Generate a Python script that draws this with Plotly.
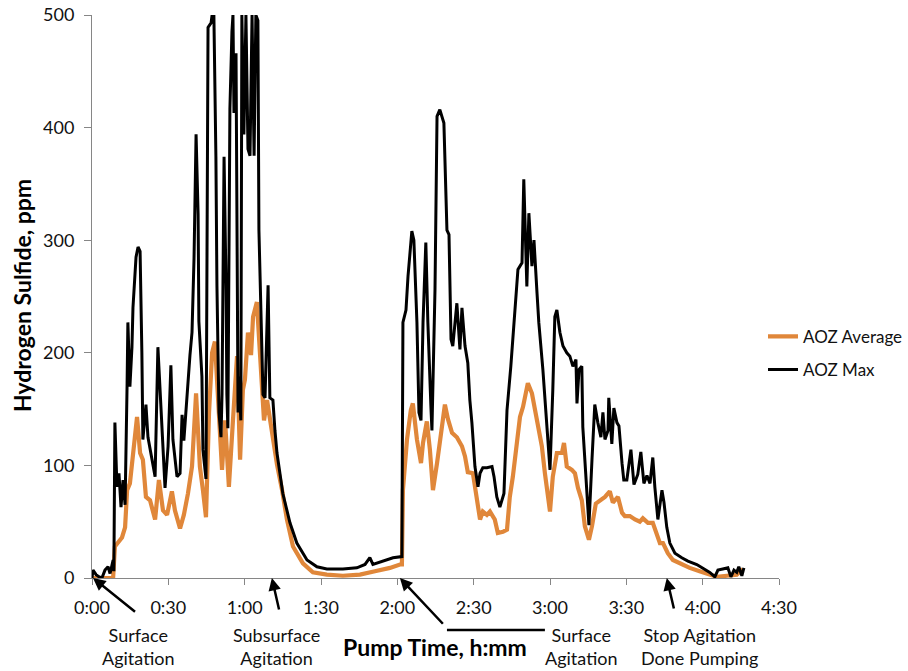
import plotly.graph_objects as go

# Time in minutes of pumping, values in ppm
max_t = [0.0, 0.4, 1.6, 2.8, 3.9, 5.1, 6.3, 7.1, 8.3, 8.6, 9.0, 9.8, 10.6, 11.4, 12.2, 13.0, 13.8, 14.1, 14.9, 15.7,
         16.1, 17.3, 18.1, 18.9, 19.6, 20.0, 21.2, 22.0, 23.6, 24.8, 25.9, 27.5, 28.7, 29.9, 31.0, 31.8, 33.4, 34.6,
         35.4, 36.1, 37.3, 38.5, 39.3, 40.1, 40.9, 41.7, 42.0, 43.2, 43.6, 44.8, 45.6, 46.8, 47.2, 47.9, 48.7, 49.1,
         49.9, 50.7, 51.1, 51.9, 52.7, 53.0, 53.4, 54.2, 55.0, 55.4, 55.8, 56.6, 57.4, 57.8, 58.5, 58.9, 59.7, 60.5,
         61.3, 62.1, 62.9, 63.7, 64.4, 65.2, 65.6, 66.4, 67.2, 68.0, 69.2, 69.9, 71.1, 71.9, 72.7, 75.0, 77.8, 80.5,
         84.5, 88.4, 92.3, 98.6, 104.1, 107.3, 109.2, 110.4, 113.2, 118.3, 121.8, 122.2, 123.4, 124.2, 125.7, 126.5,
         127.7, 128.5, 129.3, 130.1, 131.2, 132.0, 133.2, 133.6, 134.8, 135.6, 136.7, 138.3, 139.5, 140.3, 141.1,
         141.8, 143.4, 144.6, 145.4, 146.6, 147.7, 148.5, 149.3, 150.5, 151.7, 152.5, 153.6, 155.2, 157.2, 158.0,
         159.1, 160.3, 161.9, 163.1, 164.6, 166.2, 167.4, 169.0, 169.7, 170.9, 171.7, 172.9, 173.7, 174.9, 175.6,
         177.2, 178.8, 180.0, 181.1, 181.9, 182.7, 183.9, 185.1, 186.6, 187.8, 189.0, 190.2, 190.6, 191.4, 192.5,
         192.9, 194.5, 195.3, 196.5, 197.6, 198.8, 200.0, 200.8, 201.6, 202.8, 203.1, 204.3, 205.1, 206.3, 207.1,
         208.3, 209.0, 210.2, 211.8, 213.0, 214.5, 215.7, 216.9, 218.1, 219.3, 220.4, 221.2, 222.4, 224.0, 224.8,
         225.9, 227.1, 229.1, 231.8, 234.2, 237.7, 240.1, 242.8, 244.8, 246.0, 247.9, 249.9, 251.1, 252.3, 253.4,
         254.2, 255.4, 256.2]
max_v = [0, 7, 3, 1, 0, 7, 10, 4, 16, 6, 138, 81, 93, 63, 87, 65, 173, 227, 170, 205,
         240, 285, 294, 290, 200, 123, 154, 125, 105, 90, 205, 140, 80, 117, 189, 123, 90, 93,
         145, 122, 163, 198, 218, 284, 394, 323, 228, 179, 114, 88, 489, 493, 500, 500, 374, 260,
         147, 125, 163, 374, 257, 163, 133, 417, 485, 500, 413, 466, 147, 179, 140, 500, 394, 500,
         381, 375, 500, 375, 500, 495, 309, 228, 163, 160, 260, 160, 158, 131, 111, 75, 49, 31,
         16, 10, 8, 8, 9, 12, 18, 12, 14, 18, 19, 227, 238, 268, 308, 300,
         227, 147, 140, 227, 298, 227, 152, 131, 256, 410, 416, 404, 309, 305, 212,
         206, 244, 203, 240, 206, 191, 158, 138, 99, 81, 93, 98, 98, 99, 90,
         72, 63, 75, 149, 188, 238, 274, 280, 354, 259, 324, 277, 300, 253, 227,
         185, 138, 96, 167, 232, 238, 218, 206, 200, 197, 188, 194, 155, 185, 188,
         134, 75, 47, 105, 154, 138, 125, 147, 123, 131, 160, 119, 151, 138, 135,
         102, 87, 87, 114, 83, 92, 112, 84, 91, 84, 107, 81, 52, 78, 67,
         45, 31, 22, 18, 15, 12, 9, 5, 1, 7, 8, 9, 1, 7, 5,
         10, 2, 9]

avg_t = [0.0, 8.3, 9.0, 9.8, 10.6, 11.8, 13.0, 13.8, 14.9, 16.1, 17.7, 18.9, 20.0, 21.2, 22.8, 24.8, 26.3, 27.9, 29.5,
         31.4, 32.6, 34.6, 36.1, 37.7, 39.3, 40.9, 42.4, 43.6, 44.8, 46.0, 47.2, 48.3, 49.5, 51.1, 52.3, 53.8, 55.4,
         57.0, 58.2, 59.3, 60.1, 61.3, 62.5, 63.3, 64.8, 66.0, 67.6, 68.8, 69.9, 71.1, 72.7, 74.7, 76.6, 79.0, 82.9,
         86.8, 92.3, 98.6, 105.3, 111.2, 117.1, 121.0, 121.8, 122.2, 123.8, 125.3, 126.1, 127.7, 129.3, 130.1, 131.6,
         132.8, 134.0, 135.6, 136.7, 138.7, 139.9, 141.5, 143.4, 145.4, 146.6, 147.7, 149.7, 151.3, 152.5, 153.6,
         155.2, 156.4, 158.3, 159.5, 161.5, 163.1, 164.2, 165.4, 167.0, 168.2, 169.4, 171.3, 172.9, 174.1, 175.2,
         176.8, 178.0, 179.2, 180.0, 181.1, 182.7, 184.7, 185.5, 186.6, 188.6, 189.8, 191.0, 192.5, 193.7, 195.3,
         196.5, 198.0, 199.6, 201.6, 203.5, 204.7, 206.7, 208.3, 209.4, 211.4, 213.4, 215.3, 216.5, 218.5, 220.4,
         222.0, 223.2, 224.4, 226.3, 228.3, 231.8, 234.9, 238.8, 242.8, 245.6, 249.5, 253.4, 255.8]
avg_v = [0, 0, 28, 30, 32, 36, 45, 78, 84, 111, 143, 111, 105, 72, 69, 52, 87, 60, 56,
         77, 60, 44, 56, 75, 99, 164, 99, 78, 54, 147, 200, 210, 161, 96, 140, 81, 140,
         197, 105, 167, 176, 218, 198, 232, 245, 197, 140, 158, 140, 123, 101, 78, 52, 28, 13,
         5, 3, 2, 3, 6, 9, 12, 12, 78, 123, 149, 155, 123, 102, 120, 139,
         114, 78, 102, 123, 154, 141, 129, 125, 117, 108, 94, 93, 67, 52, 59,
         56, 59, 52, 40, 41, 43, 72, 90, 120, 143, 152, 173, 164, 149, 135,
         117, 93, 69, 59, 90, 111, 111, 120, 99, 96, 93, 80, 69, 46, 34,
         46, 66, 69, 72, 77, 67, 72, 58, 55, 55, 52, 50, 53, 49, 49,
         40, 31, 31, 22, 16, 12, 9, 6, 3, 1, 2, 3, 8]

tick_vals = [0, 30, 60, 90, 120, 150, 180, 210, 240, 270]
tick_text = ["0:00", "0:30", "1:00", "1:30", "2:00", "2:30", "3:00", "3:30", "4:00", "4:30"]

event_t = [0.4, 70.7, 121.0, 225.9]
event_text = ["Surface<br>Agitation", "Subsurface<br>Agitation", "Surface<br>Agitation", "Stop Agitation<br>Done Pumping"]
event_text_t = [18.1, 72.7, 192.5, 238.9]

FONT = "Lato, 'Open Sans', sans-serif"
AX = "#868686"
TXT = "#111111"

fig = go.Figure()
fig.add_trace(go.Scatter(x=avg_t, y=avg_v, mode="lines", name="AOZ Average", legendgroup="a",
                         line=dict(color="#E0873A", width=4.2)))
fig.add_trace(go.Scatter(x=max_t, y=max_v, mode="lines", name="AOZ Max", legendgroup="b",
                         line=dict(color="#000000", width=3)))

fig.update_layout(
    width=908, height=671,
    margin=dict(l=92, r=0, t=15, b=93, autoexpand=False),
    paper_bgcolor="white", plot_bgcolor="white",
    font=dict(family=FONT, size=18, color=TXT),
    showlegend=True,
    legend=dict(x=1.0, y=0.399, xanchor="right", yanchor="middle",
                font=dict(size=17, color=TXT), bgcolor="rgba(0,0,0,0)",
                tracegroupgap=8),
    xaxis=dict(domain=[0, 687 / 816], range=[0, 270], tickvals=tick_vals, ticktext=tick_text,
               showgrid=False, zeroline=False, showline=True, linecolor=AX, linewidth=1,
               ticks="outside", ticklen=6, tickcolor=AX, ticklabelstandoff=7, automargin=False,
               tickfont=dict(size=18, color=TXT)),
    yaxis=dict(range=[0, 500], dtick=100, showgrid=False, zeroline=False,
               showline=True, linecolor=AX, linewidth=1, automargin=False,
               ticks="outside", ticklen=7, tickcolor=AX, ticklabelstandoff=6,
               tickfont=dict(size=18, color=TXT)),
)

# axis titles
fig.add_annotation(text="<b>Pump Time, h:mm</b>", xref="x", yref="paper", x=134.8, y=-0.1227,
                   showarrow=False, xanchor="center", yanchor="middle",
                   font=dict(size=23, color="#000000", family=FONT))
fig.add_annotation(text="<b>Hydrogen Sulfide, ppm</b>", xref="paper", yref="paper", x=-70 / 816, y=0.501,
                   showarrow=False, xanchor="center", yanchor="middle", textangle=-90,
                   font=dict(size=23, color="#000000", family=FONT))

# event arrows
arrow_offsets = [(46, 37), (10, 44), (47, 50), (10, 43)]
for t, (dx, dy) in zip(event_t, arrow_offsets):
    fig.add_annotation(x=t, y=0, xref="x", yref="y", text=" ", showarrow=True,
                       ax=dx, ay=dy, axref="pixel", ayref="pixel", standoff=0, startstandoff=0,
                       arrowhead=2, arrowsize=1.0, arrowwidth=2.5, arrowcolor="#000000")

# elbow line for third event
fig.add_shape(type="line", xref="x", yref="paper", x0=139.5, x1=178.0, y0=-0.0924, y1=-0.0924,
              line=dict(color="#000000", width=2.5))

for t, txt in zip(event_text_t, event_text):
    fig.add_annotation(x=t, y=-0.1218, xref="x", yref="paper", text=txt, showarrow=False,
                       xanchor="center", yanchor="middle",
                       font=dict(size=18, color=TXT, family=FONT))

fig.write_html("out.html")
